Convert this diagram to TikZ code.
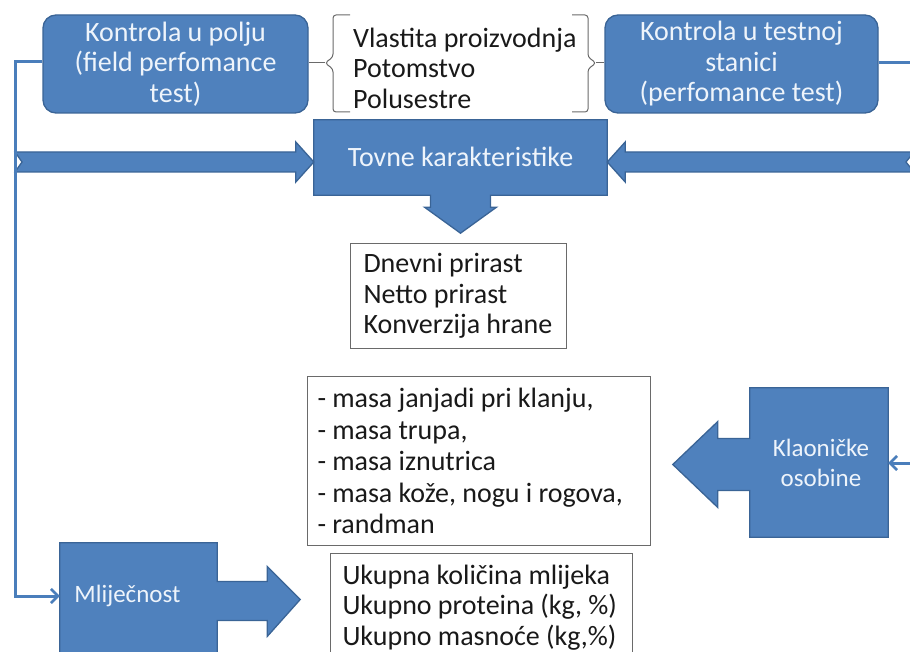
\documentclass[tikz,border=0pt]{standalone}
\usepackage{fontspec}
\setmainfont{Carlito}
\usetikzlibrary{calc,arrows.meta}
\definecolor{shapefill}{HTML}{4F81BD}
\definecolor{shapeedge}{HTML}{3A6496}
\definecolor{linkblue}{HTML}{4A7EBB}
\definecolor{lighttext}{HTML}{EEF4FB}
\definecolor{boxedge}{HTML}{6A6A6A}
\tikzset{
  txt/.style={font={\fontsize{28}{30.5}\selectfont},
    execute at begin node={\spaceskip=6.2pt\relax}},
  smalltxt/.style={font={\fontsize{25}{30}\selectfont},
    execute at begin node={\spaceskip=5.6pt\relax}},
  bluebox/.style={txt, fill=shapefill, draw=shapeedge, line width=1.3pt,
    text=lighttext, align=center, inner sep=0pt},
  blueshape/.style={fill=shapefill, draw=shapeedge, line width=1.3pt, line join=miter},
  listbox/.style={txt, draw=boxedge, line width=1pt, text=black!90,
    align=flush left, anchor=north west, inner ysep=0pt},
  link/.style={draw=linkblue, line width=3pt},
  linktip/.style={-{Straight Barb[length=7pt,width=14pt,line width=2.6pt]}},
  bracket/.style={draw=boxedge, line width=1pt, rounded corners=3pt},
}
\begin{document}
\begin{tikzpicture}[x=1pt,y=-1pt]
\useasboundingbox (0,0) rectangle (910,652);

% --- test types --------------------------------------------------------
\node[bluebox, rounded corners=13pt, minimum width=265pt, minimum height=98pt]
  (polje) at (175.5,64) {Kontrola u polju\\(field perfomance\\test)};
\node[bluebox, rounded corners=13pt, minimum width=273pt, minimum height=98pt]
  (stanica) at (741.5,64) {Kontrola u testnoj\\stanici\\(perfomance test)};

% --- bracketed list between them --------------------------------------
\node[txt, anchor=west, align=left, text=black!90, inner sep=0pt]
  (izvori) at (353,68) {Vlastita proizvodnja\\Potomstvo\\Polusestre};
\coordinate (lbr) at (325,63);
\coordinate (rbr) at (596,63);
\draw[bracket] (350,15) -- (333,15) -- (333,57) -- (lbr) -- (333,69) -- (333,112) -- (350,112);
\draw[bracket] (572,15) -- (588,15) -- (588,57) -- (rbr) -- (588,69) -- (588,112) -- (572,112);
\draw[draw=boxedge, line width=1pt] (lbr) -- (polje.east |- lbr);
\draw[draw=boxedge, line width=1pt] (rbr) -- (stanica.west |- rbr);

% --- fattening traits (callout pointing down) -------------------------
\node[txt, text=lighttext, minimum width=293pt, minimum height=75pt, inner sep=0pt]
  (tovne) at (460.5,157.5) {};
\draw[blueshape]
  (tovne.north west) -- (tovne.north east) -- (tovne.south east)
  -- ($(tovne.south)+(30,0)$) -- ($(tovne.south)+(30,12)$) -- ($(tovne.south)+(36,12)$)
  -- ($(tovne.south)+(0,38)$)
  -- ($(tovne.south)+(-36,12)$) -- ($(tovne.south)+(-30,12)$) -- ($(tovne.south)+(-30,0)$)
  -- (tovne.south west) -- cycle;
\node[txt, text=lighttext] at ($(tovne.center)+(0,-1)$) {Tovne karakteristike};

\node[listbox, text width=190pt, inner xsep=13pt, minimum height=105pt]
  (tovlist) at (350,243) {Dnevni prirast\\Netto prirast\\Konverzija hrane};

% --- thick notched arrows into the fattening box ----------------------
\coordinate (ltip) at (tovne.west |- 0,162);
\coordinate (rtip) at (tovne.east |- 0,162);
\draw[blueshape] (15,152) -- ($(ltip)+(-18,-10)$) -- ($(ltip)+(-18,-20)$) -- (ltip)
  -- ($(ltip)+(-18,20)$) -- ($(ltip)+(-18,10)$) -- (15,172) -- (22,162) -- cycle;
\draw[blueshape] (914,152) -- ($(rtip)+(18,-10)$) -- ($(rtip)+(18,-20)$) -- (rtip)
  -- ($(rtip)+(18,20)$) -- ($(rtip)+(18,10)$) -- (914,172) -- (906,162) -- cycle;

% --- slaughter traits (callout pointing left) -------------------------
\node[minimum width=138pt, minimum height=149pt, inner sep=0pt]
  (klao) at (819,462.5) {};
\draw[blueshape]
  (klao.north west) -- (klao.north east) -- (klao.south east) -- (klao.south west)
  -- ($(klao.west)+(0,28)$) -- ($(klao.west)+(-32,28)$) -- ($(klao.west)+(-32,45)$)
  -- ($(klao.west)+(-77,2)$)
  -- ($(klao.west)+(-32,-41)$) -- ($(klao.west)+(-32,-24)$) -- ($(klao.west)+(0,-24)$)
  -- cycle;
\node[smalltxt, text=lighttext, align=center] at ($(klao.center)+(2,0)$) {Klaoničke\\osobine};

\node[listbox, font={\fontsize{28}{31.5}\selectfont}, text width=323pt, inner xsep=10pt,
  minimum height=169pt]
  (klaolist) at (307,376)
  {- masa janjadi pri klanju,\\- masa trupa,\\- masa iznutrica\\- masa kože, nogu i rogova,\\- randman};

% --- milk yield (callout pointing right) ------------------------------
\node[minimum width=157pt, minimum height=113pt, inner sep=0pt]
  (mlijeko) at (138.5,599.5) {};
\draw[blueshape]
  (mlijeko.north west) -- (mlijeko.north east)
  -- ($(mlijeko.east)+(0,-18)$) -- ($(mlijeko.east)+(50,-18)$) -- ($(mlijeko.east)+(50,-33)$)
  -- ($(mlijeko.east)+(83,0)$)
  -- ($(mlijeko.east)+(50,37)$) -- ($(mlijeko.east)+(50,21)$) -- ($(mlijeko.east)+(0,21)$)
  -- (mlijeko.south east) -- (mlijeko.south west) -- cycle;
\node[smalltxt, text=lighttext] at ($(mlijeko.center)+(-11,-4)$) {Mliječnost};

\node[listbox, text width=278pt, inner xsep=12pt, minimum height=108pt]
  (mlijekolist) at (330,553)
  {Ukupna količina mlijeka\\Ukupno proteina (kg, \%)\\Ukupno masnoće (kg,\%)};

% --- thin links from the test types -----------------------------------
\coordinate (lrail) at (15,62);
\draw[link, linktip] (polje.west |- lrail) -- (lrail) -- (15,596) -- (mlijeko.west |- 0,596);
\coordinate (redge) at (912,63);
\draw[link] (stanica.east |- redge) -- (redge);
\coordinate (kedge) at (912,463);
\draw[link, linktip] (kedge) -- (klao.east |- kedge);
\end{tikzpicture}
\end{document}
